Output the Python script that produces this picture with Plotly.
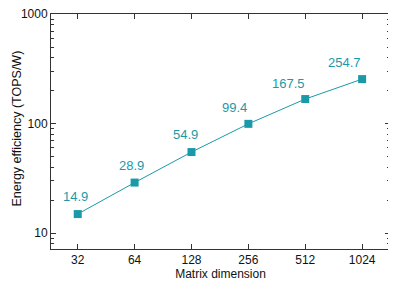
import math
import plotly.graph_objects as go

categories = ["32", "64", "128", "256", "512", "1024"]
efficiency = [14.9, 28.9, 54.9, 99.4, 167.5, 254.7]
labels = ["14.9", "28.9", "54.9", "99.4", "167.5", "254.7"]
y_ticks = [10, 100, 1000]
x_title = "Matrix dimension"
y_title = "Energy efficiency (TOPS/W)"

# label placement offsets (px) relative to each marker
label_dx = [-2, -3, -6, -14, -17, -18]
label_dy = [18, 17, 18, 16, 16, 17]

teal = "#1a9aa8"
xi = list(range(len(categories)))

fig = go.Figure()
fig.add_trace(go.Scatter(
    x=xi, y=efficiency, mode="lines+markers",
    line=dict(color=teal, width=1),
    marker=dict(symbol="square", size=8, color=teal),
    cliponaxis=False,
))

for x, v, t, dx, dy in zip(xi, efficiency, labels, label_dx, label_dy):
    fig.add_annotation(x=x, y=math.log10(v), text=t, showarrow=False,
                       xshift=dx, yshift=dy, xanchor="center", yanchor="middle",
                       font=dict(color=teal, size=13, family="Liberation Sans, Arial"))

# y-axis title placed as a rotated annotation at the left edge of the figure
fig.add_annotation(xref="paper", yref="paper", x=0, y=0.5, text=y_title,
                   showarrow=False, textangle=-90, xanchor="left", yanchor="middle",
                   xshift=-43, yshift=3, borderpad=0,
                   font=dict(size=12.5, color="#111", family="Liberation Sans, Arial"))

axis_common = dict(showline=True, linecolor="#333", linewidth=1, mirror="ticks",
                   ticks="inside", tickcolor="#333", showgrid=False, zeroline=False,
                   automargin=False, ticklabeloverflow="allow",
                   tickfont=dict(size=12, color="#111"))

fig.update_xaxes(**axis_common, tickmode="array", tickvals=xi, ticktext=categories,
                 ticklen=5, range=[-0.47, 5.49],
                 title=dict(text=x_title, font=dict(size=12, color="#111"), standoff=2))
fig.update_yaxes(**axis_common, type="log", range=[0.854, 3.001], tickmode="array",
                 tickvals=y_ticks, ticktext=[str(v) for v in y_ticks], ticklen=5,
                 minor=dict(ticks="inside", ticklen=3, tickcolor="#333",
                            tickvals=[7, 8, 9, 20, 30, 40, 50, 60, 70, 80, 90,
                                      200, 300, 400, 500, 600, 700, 800, 900]))

fig.update_layout(width=388, height=276, margin=dict(l=43, r=6, t=6, b=35),
                  plot_bgcolor="white", paper_bgcolor="white", showlegend=False,
                  font=dict(family="Liberation Sans, Arial"))
fig.write_html("out.html")
